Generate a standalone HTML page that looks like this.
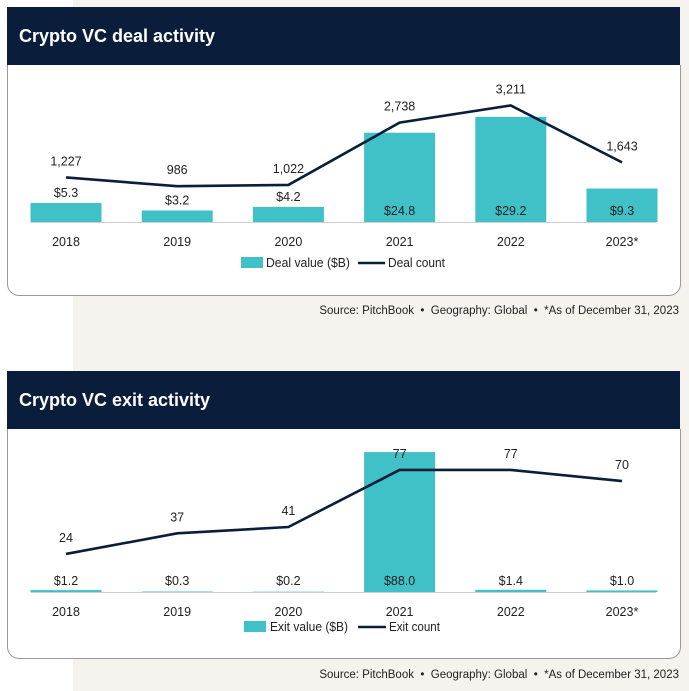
<!DOCTYPE html>
<html><head><meta charset="utf-8"><style>
body{margin:0;width:689px;height:691px;position:relative;background:#fff;font-family:"Liberation Sans",sans-serif;overflow:hidden}
.bg{position:absolute;left:73px;top:0;width:616px;height:691px;background:#f6f3ee}
.panel{position:absolute;left:7px;width:672px;background:#fff;border:1px solid #9a9a9a;border-top:none;border-radius:0 0 12px 12px}
.hdr{position:absolute;left:7px;width:673px;height:58px;background:#0a1e3c;color:#fff;font-weight:bold;font-size:18px;line-height:58px;padding-left:12px;box-sizing:border-box}
.src{position:absolute;right:10px;font-size:11.5px;color:#222}
svg{position:absolute;left:0;top:0}
</style></head><body>
<div class="bg"></div>
<div class="panel" style="top:65px;height:230px"></div>
<div class="hdr" style="top:7px">Crypto VC deal activity</div>
<div class="src" style="top:305px">Source: PitchBook&nbsp; •&nbsp; Geography: Global&nbsp; •&nbsp; *As of December 31, 2023</div>
<div class="panel" style="top:429px;height:229px"></div>
<div class="hdr" style="top:371px">Crypto VC exit activity</div>
<div class="src" style="top:669px">Source: PitchBook&nbsp; •&nbsp; Geography: Global&nbsp; •&nbsp; *As of December 31, 2023</div>
<svg id="c" width="689" height="691"></svg>
<script>
const years=["2018","2019","2020","2021","2022","2023*"];
const dealValue=[5.3,3.2,4.2,24.8,29.2,9.3];
const dealValueLabels=["$5.3","$3.2","$4.2","$24.8","$29.2","$9.3"];
const dealCount=[1227,986,1022,2738,3211,1643];
const dealCountLabels=["1,227","986","1,022","2,738","3,211","1,643"];
const exitValue=[1.2,0.3,0.2,88.0,1.4,1.0];
const exitValueLabels=["$1.2","$0.3","$0.2","$88.0","$1.4","$1.0"];
const exitCount=[24,37,41,77,77,70];
const exitCountLabels=["24","37","41","77","77","70"];
const NS="http://www.w3.org/2000/svg",svg=document.getElementById('c');
function mk(t,a,txt){const e=document.createElementNS(NS,t);for(const k in a)e.setAttribute(k,a[k]);if(txt!=null)e.textContent=txt;svg.appendChild(e);return e;}
const xC=i=>66+i*111.2;
function chart(o){
  const yb=v=>o.base-v*o.bs, yl=v=>o.base-v*o.ls;
  mk('line',{x1:31,x2:656,y1:o.base+0.5,y2:o.base+0.5,stroke:'#d0d0d0','stroke-width':1});
  o.vals.forEach((v,i)=>{
    const r=mk('rect',{x:xC(i)-35.5,y:yb(v),width:71,height:v*o.bs,fill:'#40c1c7'});
    
    
    const inside=v*o.bs>30;
    const ly=o.valInside?o.valY:(inside?o.base-7:yb(v)-6);
    const t=mk('text',{x:xC(i),y:ly,'text-anchor':'middle','font-size':12.5,fill:'#222'},o.vlab[i]);
    
    
    const yt=mk('text',{x:xC(i),y:o.base+24,'text-anchor':'middle','font-size':12.5,fill:'#222'},years[i]);
    
    
  });
  const pl=mk('polyline',{points:o.cnt.map((v,i)=>xC(i)+','+yl(v)).join(' '),fill:'none',stroke:'#0a1e3c','stroke-width':2.6});
  
  
  o.cnt.forEach((v,i)=>{
    const t=mk('text',{x:xC(i),y:yl(v)-12,'text-anchor':'middle','font-size':12.5,fill:'#222'},o.clab[i]);
    
    
  });
  const ly=o.base+o.legDy, L=o.leg;
  const lr=mk('rect',{x:L[0],y:ly-6,width:L[1]-L[0],height:11,fill:'#40c1c7'});
  
  
  const lt=mk('text',{x:L[2],y:ly+4,'font-size':13,fill:'#222',textLength:L[3]-L[2],lengthAdjust:'spacingAndGlyphs'},o.l1);
  
  
  const ll=mk('line',{x1:L[4],x2:L[5],y1:ly,y2:ly,stroke:'#0a1e3c','stroke-width':2.6});
  
  
  const lt2=mk('text',{x:L[6],y:ly+4,'font-size':13,fill:'#222',textLength:L[7]-L[6],lengthAdjust:'spacingAndGlyphs'},o.l2);
  
  
}
chart({key:'deal',base:222,bs:3.6,ls:0.0363,vals:dealValue,vlab:dealValueLabels,cnt:dealCount,clab:dealCountLabels,leg:[241,263,266,350,358,385,388,445],legDy:41,l1:'Deal value ($B)',l2:'Deal count'});
chart({key:'exit',base:592,bs:1.59,ls:1.585,vals:exitValue,vlab:exitValueLabels,cnt:exitCount,clab:exitCountLabels,valInside:true,valY:585,leg:[244,266,270,348,358,386,389,440],legDy:35,l1:'Exit value ($B)',l2:'Exit count'});
</script>
</body></html>
